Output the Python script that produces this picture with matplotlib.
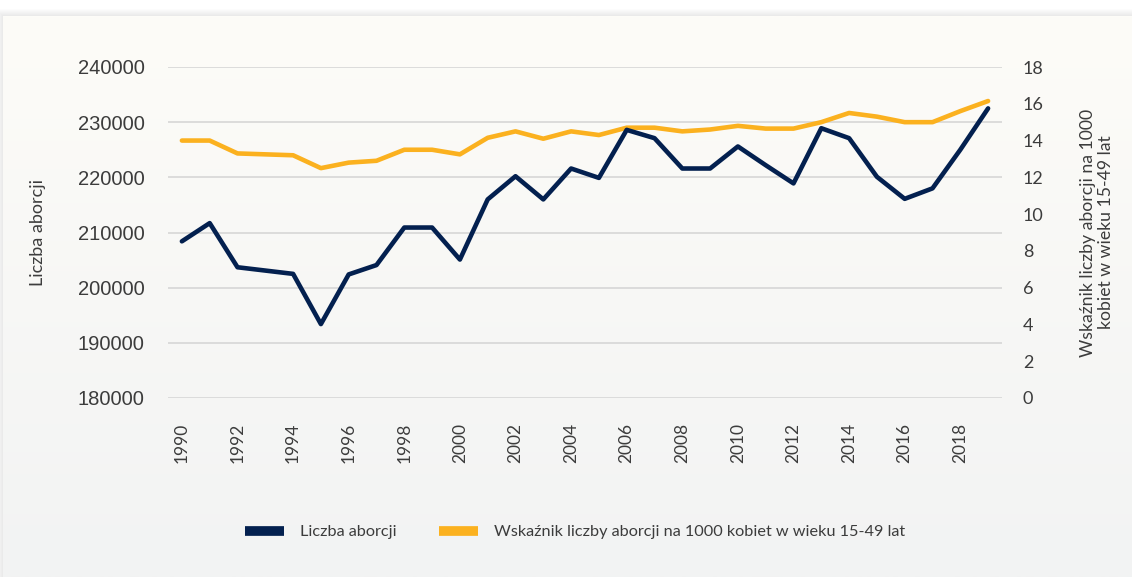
import numpy as np
import matplotlib.pyplot as plt
from matplotlib.lines import Line2D
from matplotlib.patches import Rectangle

plt.rcParams['font.family'] = ['Lato', 'DejaVu Sans']

years = list(range(1990, 2020))
abortions = [208400, 211700, 203700, 203100, 202500, 193400, 202400, 204100, 210900, 210900,
             205100, 216000, 220200, 216000, 221600, 219900, 228600, 227100, 221600, 221600,
             225600, 222200, 218900, 228900, 227100, 220100, 216100, 218000, 225000, 232500]
rate = [14.0, 14.0, 13.3, 13.25, 13.2, 12.5, 12.8, 12.9, 13.5, 13.5,
        13.25, 14.15, 14.5, 14.1, 14.5, 14.3, 14.7, 14.7, 14.5, 14.6,
        14.8, 14.65, 14.65, 15.0, 15.5, 15.3, 15.0, 15.0, 15.6, 16.15]
left_ticks = list(range(180000, 240001, 10000))
right_ticks = list(range(0, 19, 2))
x_ticks = list(range(1990, 2019, 2))
label_left = 'Liczba aborcji'
label_right = 'Wskaźnik liczby aborcji na 1000\nkobiet w wieku 15-49 lat'

navy = '#03204f'
orange = '#fbb11f'
txt = '#3c3c3c'

fig = plt.figure(figsize=(11.32, 5.77), dpi=100, facecolor='white')

# card background with soft shadow and vertical gradient
W, H = 1132, 577
cx, cy = 3 / W, 0
cw, ch = 1 - cx, 1 - 16 / H
for k in range(1, 8):
    fig.patches.append(Rectangle((cx - k / W, 0), cw + 2 * k / W, ch + k / H,
                                 transform=fig.transFigure, facecolor='black',
                                 alpha=0.01, edgecolor='none', zorder=-20))
bg = fig.add_axes([cx, cy, cw, ch], zorder=-10)
top = np.array([253, 252, 248]) / 255
bottom = np.array([242, 243, 243]) / 255
grad = top + np.linspace(0, 1, 256)[:, None, None] * (bottom - top)
bg.imshow(grad, aspect='auto', extent=[0, 1, 0, 1])
bg.axis('off')

ax = fig.add_axes([168 / W, 1 - 398 / H, 834 / W, 331 / H])
ax.patch.set_alpha(0)
ax2 = ax.twinx()

ax.set_xlim(1989.5, 2019.5)
ax.set_ylim(180000, 240000)
ax2.set_ylim(0, 18)

ax.set_yticks(left_ticks)
ax.set_yticklabels([str(v) for v in left_ticks], fontfamily='Liberation Sans',
                   fontsize=14.5, color=txt)
ax2.set_yticks(right_ticks)
ax2.set_yticklabels([str(v) for v in right_ticks], fontsize=13, color=txt)
ax.set_xticks(x_ticks)
ax.set_xticklabels([str(v) for v in x_ticks], rotation=90, fontsize=12.5, color=txt)

ax.tick_params(axis='y', length=0, pad=17)
ax.tick_params(axis='x', length=0, pad=18)
ax2.tick_params(axis='y', length=0, pad=15)

ax.grid(axis='y', color='#d9d9d9', lw=1.3)
ax.set_axisbelow(True)
for a in (ax, ax2):
    for s in a.spines.values():
        s.set_visible(False)

# both lines on ax2 so the dark one sits on top
ax2.plot(years, rate, color=orange, lw=3.3, solid_capstyle='round')
ax2.plot(years, abortions, color=navy, lw=3.3, solid_capstyle='round',
         transform=ax.transData)
ax2.set_ylim(0, 18)
ax.set_xlim(1989.5, 2019.5)

fig.text(38 / W, 1 - 232.5 / H, label_left, rotation=90, ha='center', va='center',
         fontsize=13, color=txt)
fig.text(1097 / W, 1 - 232.5 / H, label_right, rotation=90, ha='center', va='center',
         multialignment='center', fontsize=12.7, color=txt, linespacing=1.15)

handles = [Line2D([], [], color=navy, lw=7, solid_capstyle='butt'),
           Line2D([], [], color=orange, lw=7, solid_capstyle='butt')]
fig.legend(handles, ['Liczba aborcji', 'Wskaźnik liczby aborcji na 1000 kobiet w wieku 15-49 lat'],
           loc='center', bbox_to_anchor=(575 / W, 1 - 532 / H), ncol=2, frameon=False,
           fontsize=11.7, labelcolor=txt, handlelength=2.4, handletextpad=1.0,
           columnspacing=2.6)

fig.savefig('out.png', dpi=100, facecolor='white')
